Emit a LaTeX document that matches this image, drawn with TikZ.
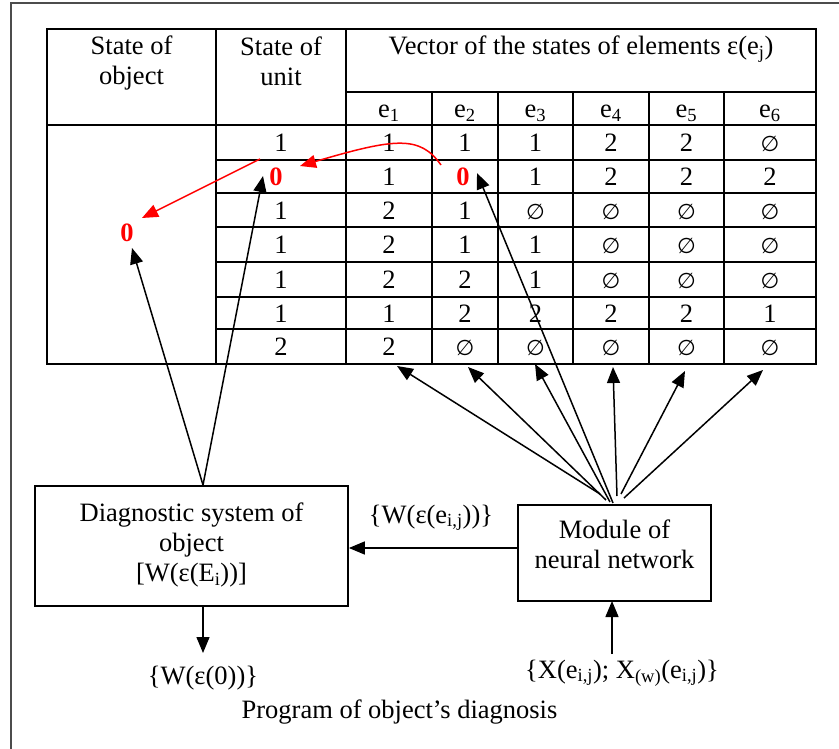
\documentclass[tikz,border=0pt]{standalone}
\usepackage{fontspec}
\setmainfont{Liberation Serif}
\newfontfamily\symfont{DejaVu Sans}
\usetikzlibrary{arrows.meta}
\begin{document}
\begin{tikzpicture}[x=1pt,y=-1pt,
  txt/.style={font=\fontsize{26.5}{30}\selectfont, inner sep=0pt, align=center},
  val/.style={txt, anchor=base},
  redval/.style={val, text=red, font=\fontsize{26.5}{30}\selectfont\bfseries},
  emp/.style={inner sep=0pt, anchor=base, font=\symfont\fontsize{21.5}{24}\selectfont},
  gridline/.style={line width=1.7pt},
  boxst/.style={draw, line width=1.7pt, inner sep=0pt},
  arr/.style={line width=1.5pt, -{Triangle[length=16pt,width=13pt]}},
  rarr/.style={arr, red}]
\useasboundingbox (0,0) rectangle (839,749);
\clip (0,0) rectangle (839,749);
% outer frame
\draw[black!70, line width=1.8pt] (11,760) -- (11,3) -- (850,3);
% table grid
\draw[gridline] (47,29) rectangle (816,364);
\draw[gridline] (216,29) -- (216,364);
\draw[gridline] (346,29) -- (346,364);
\draw[gridline] (346,92) -- (816,92);
\draw[gridline] (47,125) -- (816,125);
\foreach \x in {432,498,573,649,724} \draw[gridline] (\x,92) -- (\x,364);
\foreach \y in {160,193,227,262,297,329} \draw[gridline] (216,\y) -- (816,\y);
% headers
\node[txt] (h1) at (131.5,63) {State of\\object};
\node[txt] (h2) at (281,61) {State of\\unit};
\node[val] (h3) at (581,55) {Vector of the states of elements ε(e\textsubscript{j})};
\foreach \i/\x in {1/389,2/465,3/535.5,4/611,5/686.5,6/770}
  \node[val] (eh\i) at (\x,118) {e\textsubscript{\i}};
% body values: row baselines
\def\ya{152}\def\yb{185.5}\def\yc{219}\def\yd{253.5}\def\ye{288.5}\def\yf{322}\def\yg{355.5}
% unit column
\node[val] (u1) at (281,\ya) {1};
\node[redval] (u2) at (276,\yb) {0};
\node[val] (u3) at (281,\yc) {1};
\node[val] (u4) at (281,\yd) {1};
\node[val] (u5) at (281,\ye) {1};
\node[val] (u6) at (281,\yf) {1};
\node[val] (u7) at (281,\yg) {2};
% object
\node[redval] (obj) at (127,242) {0};
% row 1
\node[val] (r1a) at (389,\ya) {1};
\node[val] (r1b) at (465,\ya) {1};
\node[val] (r1c) at (535.5,\ya) {1};
\node[val] (r1d) at (611,\ya) {2};
\node[val] (r1e) at (686.5,\ya) {2};
\node[emp] (r1f) at (770,\ya) {∅};
% row 2
\node[val] (r2a) at (389,\yb) {1};
\node[redval] (r2b) at (463,\yb) {0};
\node[val] (r2c) at (535.5,\yb) {1};
\node[val] (r2d) at (611,\yb) {2};
\node[val] (r2e) at (686.5,\yb) {2};
\node[val] (r2f) at (770,\yb) {2};
% row 3
\node[val] (r3a) at (389,\yc) {2};
\node[val] (r3b) at (465,\yc) {1};
\node[emp] (r3c) at (535.5,\yc) {∅};
\node[emp] (r3d) at (611,\yc) {∅};
\node[emp] (r3e) at (686.5,\yc) {∅};
\node[emp] (r3f) at (770,\yc) {∅};
% row 4
\node[val] (r4a) at (389,\yd) {2};
\node[val] (r4b) at (465,\yd) {1};
\node[val] (r4c) at (535.5,\yd) {1};
\node[emp] (r4d) at (611,\yd) {∅};
\node[emp] (r4e) at (686.5,\yd) {∅};
\node[emp] (r4f) at (770,\yd) {∅};
% row 5
\node[val] (r5a) at (389,\ye) {2};
\node[val] (r5b) at (465,\ye) {2};
\node[val] (r5c) at (535.5,\ye) {1};
\node[emp] (r5d) at (611,\ye) {∅};
\node[emp] (r5e) at (686.5,\ye) {∅};
\node[emp] (r5f) at (770,\ye) {∅};
% row 6
\node[val] (r6a) at (389,\yf) {1};
\node[val] (r6b) at (465,\yf) {2};
\node[val] (r6c) at (535.5,\yf) {2};
\node[val] (r6d) at (611,\yf) {2};
\node[val] (r6e) at (686.5,\yf) {2};
\node[val] (r6f) at (770,\yf) {1};
% row 7
\node[val] (r7a) at (389,\yg) {2};
\node[emp] (r7b) at (465,\yg) {∅};
\node[emp] (r7c) at (535.5,\yg) {∅};
\node[emp] (r7d) at (611,\yg) {∅};
\node[emp] (r7e) at (686.5,\yg) {∅};
\node[emp] (r7f) at (770,\yg) {∅};
% boxes
\node[boxst, minimum width=313pt, minimum height=120pt] (diag) at (191.5,546) {};
\node[txt] (diagtxt) at (191.5,545) {Diagnostic system of\\object\\{[}W(ε(E\textsubscript{i})){]}};
\node[boxst, minimum width=193pt, minimum height=96pt] (mod) at (614.5,553) {};
\node[txt] (modtxt) at (614.5,544) {Module of\\neural network};
% labels
\node[val] (wout) at (203,684) {\{W(ε(0))\}};
\node[val] (wij) at (431,523) {\{W(ε(e\textsubscript{i,j}))\}};
\node[val] (xin) at (622,678) {\{X(e\textsubscript{i,j}); X\textsubscript{(w)}(e\textsubscript{i,j})\}};
\node[val] (prog) at (399.5,718) {Program of object’s diagnosis};
% coordinates
\coordinate (dtop) at (203,485);
\coordinate (tObj) at (132,248);
\coordinate (tUnit) at (263,176);
\coordinate (dOut) at (203,606);
\coordinate (tOut) at (203,653);
\coordinate (lvl) at (0,548);
\coordinate (inS) at (612,654);
\coordinate (mTop) at (612,601);
\coordinate (s1) at (600,494);
\coordinate (s2) at (606,500);
\coordinate (s3) at (610,502);
\coordinate (sL) at (613,503);
\coordinate (s4) at (617,496);
\coordinate (s5) at (621,494);
\coordinate (s6) at (624,498);
\coordinate (t1) at (397,366);
\coordinate (t2) at (468,367);
\coordinate (t3) at (535,364);
\coordinate (tL) at (477,173);
\coordinate (t4) at (613,367);
\coordinate (t5) at (685,371);
\coordinate (t6) at (763,370);
\coordinate (rA) at (441,165);
\coordinate (rB) at (300,166);
\coordinate (rC) at (260,159);
\coordinate (rD) at (142,218);
% arrows
\draw[arr] (dtop) -- (tObj);
\draw[arr] (dtop) -- (tUnit);
\draw[arr] (dOut) -- (tOut);
\draw[arr] (mod.west |- lvl) -- (diag.east |- lvl);
\draw[arr] (inS) -- (mTop);
\foreach \a/\b in {s1/t1,s2/t2,s3/t3,sL/tL,s4/t4,s5/t5,s6/t6}
  \draw[arr] (\a) -- (\b);
\draw[rarr] (rA) .. controls (420,135) and (395,138) .. (rB);
\draw[rarr] (rC) -- (rD);
\end{tikzpicture}
\end{document}
